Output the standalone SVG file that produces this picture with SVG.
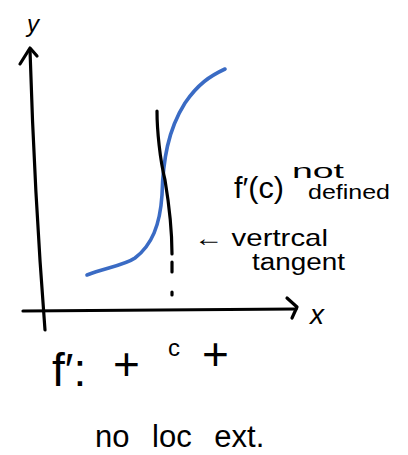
<svg xmlns="http://www.w3.org/2000/svg" width="408" height="455" viewBox="0 0 408 455">
<style>
.ink{fill:none;stroke:#000;stroke-width:3.2;stroke-linecap:round;stroke-linejoin:round}
.blue{fill:none;stroke:#3a6bc4;stroke-width:3.6;stroke-linecap:round}
.t{font-family:"Liberation Sans",sans-serif;fill:#000}
</style>
<rect width="408" height="455" fill="#fff"/>
<g id="axes">
<path class="ink" d="M30,50 C33,150 38,240 45,330"/>
<path class="ink" d="M20,64 L30,48 L37,56"/>
<path class="ink" d="M23,311 L296,309"/>
<path class="ink" d="M287,298 L297,307 L292,318"/>
</g>
<g id="curve">
<path class="blue" d="M87,275 C105,268 125,265 135,258 C152,245 160,225 162,195 C163,160 168,130 185,103 C198,84 210,76 225,69"/>
</g>
<g id="tangent">
<path class="ink" d="M157,111 C157,130 160,160 165,180 C170,210 172,235 172,254"/>
<path class="ink" d="M172,262 L172,272"/>
<path class="ink" d="M172,292 L172,295"/>
</g>
<g id="labels">
<text class="t" x="27" y="32" font-size="24" font-style="italic">y</text>
<text class="t" x="310" y="324" font-size="28" font-style="italic">x</text>
<text class="t" x="234" y="198" font-size="30" textLength="50" lengthAdjust="spacingAndGlyphs">f′(c)</text>
<text class="t" x="292" y="178" font-size="20" textLength="52" lengthAdjust="spacingAndGlyphs">not</text>
<text class="t" x="308" y="199" font-size="21" textLength="82" lengthAdjust="spacingAndGlyphs">defined</text>
<text class="t" x="194" y="246" font-size="24" textLength="134" lengthAdjust="spacingAndGlyphs">← vertrcal</text>
<text class="t" x="252" y="270" font-size="23" textLength="93" lengthAdjust="spacingAndGlyphs">tangent</text>
<text class="t" x="52" y="386" font-size="46">f′:</text>
<text class="t" x="113" y="380" font-size="46">+</text>
<text class="t" x="168" y="356" font-size="24">c</text>
<text class="t" x="202" y="370" font-size="46">+</text>
<text class="t" x="95" y="447" font-size="31" word-spacing="14">no loc ext.</text>
</g>
</svg>
